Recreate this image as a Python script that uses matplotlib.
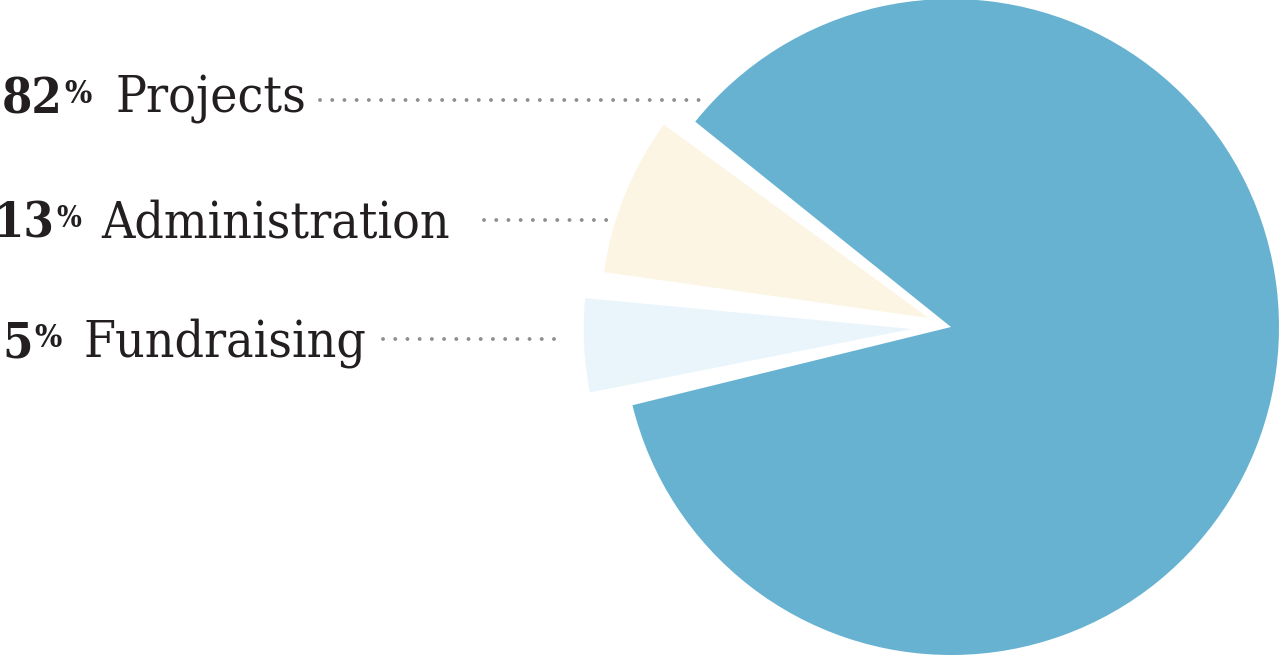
import matplotlib.pyplot as plt

# data
labels = ["Projects", "Administration", "Fundraising"]
pct = [82, 13, 5]
# share of the circle each wedge takes in the drawing
drawn = [85.4, 7.8, 4.6]
colors = ["#67b2d1", "#fcf5e4", "#eaf5fb"]

W, H = 1281, 656
fig = plt.figure(figsize=(W / 100, H / 100), dpi=100)
ax = fig.add_axes([0, 0, 1, 1])

# gap between wedges, spread evenly over the leftover share
gap = (100 - sum(drawn)) / len(drawn)
sizes, cols, expl = [], [], []
offsets = [0.0, 0.073, 0.12]
for d, c, e in zip(drawn, colors, offsets):
    sizes += [d, gap]
    cols += [c, "none"]
    expl += [e, 0]

cx, cy, r = 951, H - 327, 328
ax.pie(sizes, colors=cols, explode=[e * r for e in expl], startangle=193.8,
       counterclock=True, center=(cx, cy), radius=r,
       wedgeprops=dict(linewidth=0))

ax.set_xlim(0, W)
ax.set_ylim(0, H)
ax.set_aspect("equal")
ax.axis("off")

# label layout (pixels from top-left)
baselines = [113, 237, 357]
num_right = [63, 55, 33]
word_left = [115, 101, 83]
pct_size = [23, 21, 23]
dots = [(320, 709, 100), (484, 607, 220), (383, 560, 339)]

txt = "#231f20"
for lab, p, b, nr, wl, ps, (x0, x1, yd) in zip(labels, pct, baselines,
                                               num_right, word_left, pct_size,
                                               dots):
    y = H - b
    ax.text(nr, y, str(p), ha="right", va="baseline", fontsize=35,
            fontweight="bold", family="DejaVu Serif", stretch="condensed",
            color=txt)
    ax.text(nr + 1, y + 10, "%", ha="left", va="baseline", fontsize=ps,
            fontweight="bold", family="DejaVu Serif", stretch="condensed",
            color=txt)
    ax.text(wl, y, lab, ha="left", va="baseline", fontsize=37,
            family="DejaVu Serif", stretch="condensed", fontweight="light",
            color=txt)
    ax.plot([x0, x1], [H - yd, H - yd], color="#8e8e8e", lw=2.8,
            linestyle=(0, (0.01, 3.13)), dash_capstyle="round")

fig.savefig("out.png", dpi=100)
